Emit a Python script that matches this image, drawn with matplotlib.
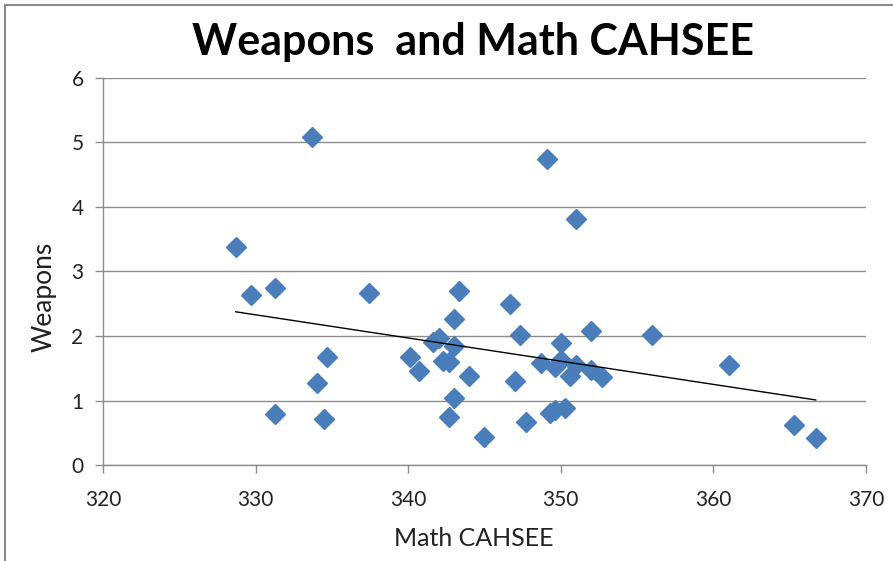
import numpy as np
import matplotlib
matplotlib.use("Agg")
import matplotlib.pyplot as plt
from matplotlib.patches import Rectangle

# Math CAHSEE score vs. weapons incidents per school
math_cahsee = [
    333.7, 328.7, 329.7, 331.3, 337.4, 334.7, 334.0, 331.3, 334.5,
    343.3, 346.7, 343.0, 347.3, 352.0, 350.0, 342.0, 341.6, 343.0,
    340.1, 340.7, 342.3, 342.7, 344.0, 343.0, 342.7, 345.0, 347.0,
    347.7, 348.7, 349.6, 350.0, 350.6, 351.0, 352.0, 352.7, 349.3,
    349.6, 350.3, 349.1, 351.0, 356.0, 361.0, 365.3, 366.7,
]
weapons = [
    5.08, 3.38, 2.63, 2.75, 2.66, 1.67, 1.27, 0.80, 0.71,
    2.70, 2.50, 2.26, 2.02, 2.08, 1.89, 1.97, 1.91, 1.85,
    1.68, 1.46, 1.62, 1.60, 1.38, 1.04, 0.75, 0.44, 1.30,
    0.67, 1.59, 1.52, 1.63, 1.38, 1.56, 1.48, 1.37, 0.81,
    0.86, 0.89, 4.74, 3.82, 2.02, 1.56, 0.63, 0.43,
]
x_ticks = [320, 330, 340, 350, 360, 370]
y_ticks = [0, 1, 2, 3, 4, 5, 6]

plt.rcParams['font.family'] = ['Lato', 'DejaVu Sans']

fig = plt.figure(figsize=(8.93, 5.61), dpi=100)
ax = fig.add_axes([0.1153, 0.1706, 0.8545, 0.6909])

grid_col = '#8c8c8c'
ax.set_axisbelow(True)
ax.yaxis.grid(True, color=grid_col, linewidth=1.0)

ax.plot(math_cahsee, weapons, linestyle='none', marker='D', markersize=10.5,
        color='#4a7ebb', markeredgecolor='#4a7ebb', zorder=3)

# linear trend line over the data range
x = np.array(math_cahsee)
slope, intercept = np.polyfit(x, np.array(weapons), 1)
xs = np.array([x.min(), x.max()])
ax.plot(xs, slope * xs + intercept, color='black', linewidth=1.0, zorder=4)

ax.set_xlim(320, 370)
ax.set_ylim(0, 6)
ax.set_xticks(x_ticks)
ax.set_yticks(y_ticks)

for side in ['top', 'right']:
    ax.spines[side].set_visible(False)
for side in ['left', 'bottom']:
    ax.spines[side].set_color(grid_col)
    ax.spines[side].set_linewidth(1.0)
ax.tick_params(axis='both', direction='out', length=6, width=1.0,
               color=grid_col, labelsize=15, labelcolor='#222222')
ax.tick_params(axis='x', pad=12)
ax.tick_params(axis='y', pad=8)

ax.set_xlabel('Math CAHSEE', fontsize=18, color='#222222', va='center')
ax.set_ylabel('Weapons', fontsize=19, color='#222222', va='center')
ax.xaxis.set_label_coords(0.486, -0.19)
ax.yaxis.set_label_coords(-0.077, 0.434)
fig.text(0.5295, 0.926, 'Weapons  and Math CAHSEE', ha='center', va='center',
         fontsize=31, fontweight='bold', color='black')

# chart frame
fig.patches.append(Rectangle((5 / 893, -0.1), 1.2, 1.1 - 5 / 561,
                             transform=fig.transFigure, fill=False,
                             edgecolor='#8a8a8a', linewidth=1.5))

fig.savefig('out.png', dpi=100)
